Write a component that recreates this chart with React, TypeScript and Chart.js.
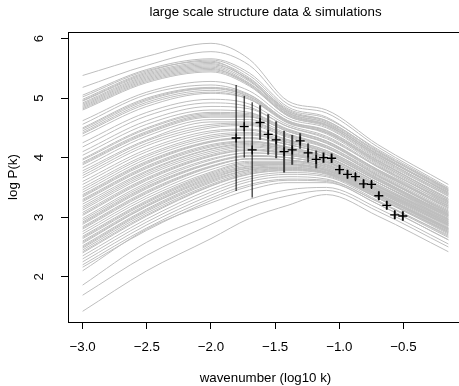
import React, { useEffect, useRef } from 'react';
import { Chart, registerables } from 'chart.js';

Chart.register(...registerables);

const TITLE = 'large scale structure data & simulations';
const X_LABEL = 'wavenumber (log10 k)';
const Y_LABEL = 'log P(k)';
const X_TICKS = [-3.0, -2.5, -2.0, -1.5, -1.0, -0.5];
const Y_TICKS = [2, 3, 4, 5, 6];

// knots (log10 k) at which each simulated curve was read
const simK = [-3.0, -2.5, -2.0, -1.7, -1.4, -1.1, -0.7, -0.15];

// simulated log P(k) curves, values at simK
const simLogP: number[][] = [
  [5.38, 5.70, 5.92, 5.65, 4.95, 4.80, 4.22, 3.55],
  [5.18, 5.55, 5.78, 5.55, 4.90, 4.75, 4.18, 3.50],
  [5.05, 5.48, 5.66, 5.42, 4.85, 4.68, 4.12, 3.47],
  [5.02, 5.46, 5.62, 5.30, 4.78, 4.60, 4.08, 3.40],
  [4.98, 5.44, 5.64, 5.38, 4.82, 4.66, 4.14, 3.48],
  [4.96, 5.42, 5.60, 5.34, 4.78, 4.62, 4.10, 3.46],
  [4.95, 5.40, 5.58, 5.30, 4.76, 4.58, 4.05, 3.42],
  [4.92, 5.38, 5.56, 5.32, 4.80, 4.62, 4.10, 3.45],
  [4.90, 5.36, 5.54, 5.28, 4.75, 4.58, 4.06, 3.40],
  [4.88, 5.34, 5.52, 5.25, 4.74, 4.55, 4.02, 3.38],
  [4.86, 5.32, 5.50, 5.22, 4.72, 4.54, 4.04, 3.42],
  [4.84, 5.30, 5.48, 5.24, 4.72, 4.56, 4.06, 3.44],
  [4.82, 5.28, 5.46, 5.22, 4.70, 4.54, 4.02, 3.38],
  [4.80, 5.26, 5.44, 5.20, 4.70, 4.52, 4.00, 3.36],
  [4.62, 5.10, 5.28, 5.12, 4.66, 4.50, 3.98, 3.35],
  [4.56, 5.06, 5.22, 5.06, 4.62, 4.46, 3.96, 3.30],
  [4.50, 5.00, 5.18, 5.05, 4.62, 4.45, 3.95, 3.32],
  [4.48, 4.98, 5.17, 5.03, 4.61, 4.44, 3.92, 3.28],
  [4.45, 4.96, 5.16, 5.02, 4.60, 4.42, 3.90, 3.25],
  [4.42, 4.93, 5.13, 5.00, 4.59, 4.42, 3.92, 3.27],
  [4.40, 4.90, 5.10, 4.98, 4.58, 4.42, 3.94, 3.30],
  [4.36, 4.86, 5.08, 4.98, 4.60, 4.40, 3.88, 3.22],
  [4.25, 4.76, 4.98, 4.90, 4.55, 4.36, 3.86, 3.24],
  [4.18, 4.70, 4.92, 4.85, 4.52, 4.34, 3.84, 3.20],
  [4.10, 4.62, 4.86, 4.82, 4.52, 4.32, 3.85, 3.26],
  [4.04, 4.56, 4.80, 4.76, 4.48, 4.28, 3.80, 3.18],
  [3.98, 4.50, 4.76, 4.74, 4.47, 4.28, 3.79, 3.16],
  [3.96, 4.48, 4.74, 4.72, 4.46, 4.27, 3.78, 3.14],
  [3.92, 4.44, 4.72, 4.70, 4.44, 4.24, 3.76, 3.16],
  [3.90, 4.42, 4.70, 4.69, 4.44, 4.25, 3.77, 3.19],
  [3.88, 4.40, 4.68, 4.68, 4.44, 4.25, 3.80, 3.22],
  [3.83, 4.36, 4.64, 4.64, 4.40, 4.20, 3.72, 3.10],
  [3.78, 4.30, 4.60, 4.60, 4.38, 4.20, 3.74, 3.12],
  [3.74, 4.28, 4.56, 4.58, 4.38, 4.18, 3.70, 3.06],
  [3.70, 4.24, 4.53, 4.56, 4.36, 4.17, 3.70, 3.08],
  [3.66, 4.20, 4.50, 4.54, 4.34, 4.16, 3.70, 3.10],
  [3.60, 4.14, 4.45, 4.48, 4.30, 4.12, 3.66, 3.04],
  [3.55, 4.10, 4.42, 4.46, 4.30, 4.12, 3.68, 3.08],
  [3.50, 4.05, 4.38, 4.42, 4.28, 4.10, 3.65, 3.05],
  [3.46, 4.02, 4.35, 4.40, 4.26, 4.09, 3.64, 3.04],
  [3.42, 3.98, 4.32, 4.38, 4.25, 4.08, 3.64, 3.02],
  [3.38, 3.94, 4.28, 4.34, 4.22, 4.06, 3.62, 3.00],
  [3.36, 3.92, 4.27, 4.33, 4.22, 4.05, 3.61, 3.03],
  [3.34, 3.90, 4.26, 4.32, 4.22, 4.05, 3.62, 3.06],
  [3.30, 3.86, 4.22, 4.28, 4.18, 4.02, 3.58, 2.96],
  [3.28, 3.84, 4.20, 4.27, 4.17, 4.01, 3.58, 2.98],
  [3.26, 3.82, 4.18, 4.26, 4.16, 4.00, 3.58, 3.00],
  [3.22, 3.78, 4.15, 4.24, 4.14, 3.98, 3.55, 2.94],
  [3.18, 3.76, 4.14, 4.22, 4.14, 4.00, 3.58, 3.02],
  [3.15, 3.73, 4.11, 4.20, 4.12, 3.97, 3.54, 2.97],
  [3.12, 3.70, 4.08, 4.18, 4.10, 3.95, 3.52, 2.92],
  [3.08, 3.66, 4.05, 4.15, 4.08, 3.94, 3.52, 2.95],
  [3.05, 3.64, 4.03, 4.13, 4.07, 3.93, 3.51, 2.93],
  [3.03, 3.62, 4.02, 4.12, 4.06, 3.92, 3.50, 2.90],
  [2.98, 3.58, 3.98, 4.08, 4.04, 3.90, 3.48, 2.90],
  [2.95, 3.55, 3.96, 4.08, 4.04, 3.92, 3.52, 2.96],
  [2.92, 3.52, 3.92, 4.04, 4.00, 3.88, 3.46, 2.86],
  [2.90, 3.50, 3.91, 4.03, 4.00, 3.88, 3.47, 2.89],
  [2.88, 3.48, 3.90, 4.02, 4.00, 3.88, 3.48, 2.92],
  [2.84, 3.44, 3.86, 3.98, 3.96, 3.84, 3.44, 2.84],
  [2.82, 3.42, 3.85, 3.98, 3.96, 3.85, 3.45, 2.87],
  [2.80, 3.40, 3.84, 3.98, 3.96, 3.86, 3.46, 2.90],
  [2.76, 3.36, 3.80, 3.94, 3.94, 3.82, 3.42, 2.82],
  [2.72, 3.32, 3.76, 3.92, 3.92, 3.82, 3.44, 2.88],
  [2.68, 3.28, 3.74, 3.90, 3.90, 3.80, 3.40, 2.80],
  [2.66, 3.26, 3.72, 3.88, 3.89, 3.79, 3.39, 2.78],
  [2.64, 3.24, 3.70, 3.86, 3.88, 3.78, 3.38, 2.80],
  [2.60, 3.21, 3.68, 3.85, 3.88, 3.80, 3.42, 2.86],
  [2.58, 3.19, 3.66, 3.83, 3.86, 3.78, 3.39, 2.81],
  [2.56, 3.18, 3.64, 3.82, 3.84, 3.76, 3.36, 2.76],
  [2.52, 3.14, 3.62, 3.80, 3.84, 3.76, 3.38, 2.82],
  [2.50, 3.12, 3.60, 3.79, 3.82, 3.75, 3.36, 2.78],
  [2.48, 3.10, 3.58, 3.77, 3.81, 3.74, 3.34, 2.74],
  [2.45, 3.07, 3.55, 3.75, 3.80, 3.74, 3.36, 2.80],
  [2.42, 3.04, 3.53, 3.73, 3.79, 3.73, 3.33, 2.74],
  [2.40, 3.02, 3.52, 3.72, 3.78, 3.72, 3.32, 2.72],
  [2.35, 2.97, 3.47, 3.68, 3.75, 3.70, 3.32, 2.76],
  [2.30, 2.92, 3.42, 3.64, 3.72, 3.68, 3.28, 2.68],
  [2.25, 2.87, 3.37, 3.60, 3.68, 3.64, 3.26, 2.66],
  [2.20, 2.82, 3.32, 3.55, 3.64, 3.62, 3.26, 2.70],
  [2.16, 2.78, 3.28, 3.52, 3.62, 3.60, 3.22, 2.62],
  [2.10, 2.80, 3.24, 3.46, 3.58, 3.58, 3.22, 2.62],
  [1.86, 2.58, 3.04, 3.30, 3.46, 3.50, 3.15, 2.55],
  [1.69, 2.36, 2.88, 3.18, 3.36, 3.45, 3.10, 2.50],
  [1.42, 2.10, 2.64, 2.98, 3.20, 3.38, 3.02, 2.42],
];

// observed data with error bars
const dataK = [-1.804, -1.741, -1.679, -1.617, -1.554, -1.492, -1.430, -1.367, -1.305, -1.243, -1.180,
  -1.123, -1.060, -0.998, -0.936, -0.874, -0.811, -0.749, -0.692, -0.630, -0.568, -0.505];
const dataLogP = [4.33, 4.52, 4.13, 4.59, 4.39, 4.30, 4.10, 4.13, 4.28, 4.08, 3.97,
  4.00, 3.99, 3.80, 3.72, 3.68, 3.56, 3.55, 3.36, 3.20, 3.04, 3.02];
const dataErr = [0.89, 0.52, 0.80, 0.29, 0.34, 0.31, 0.35, 0.25, 0.13, 0.16, 0.15,
  0.09, 0.08, 0.08, 0.07, 0.06, 0.07, 0.06, 0.07, 0.07, 0.07, 0.08];

const FONT = '"Liberation Sans", Arial, Helvetica, sans-serif';
const FS = 13.3;

const fmt = (v: number) => (v < 0 ? '\u2212' : '') + Math.abs(v).toFixed(1);

export default function App() {
  const ref = useRef<HTMLCanvasElement | null>(null);

  useEffect(() => {
    if (!ref.current) return;
    const datasets: any[] = [];
    simLogP.forEach((vals) => {
      datasets.push({
        data: simK.map((k, i) => ({ x: k, y: vals[i] })),
        showLine: true,
        borderColor: '#bebebe',
        borderWidth: 1,
        pointRadius: 0,
        cubicInterpolationMode: 'monotone',
        fill: false,
        order: 3,
      });
    });
    dataK.forEach((k, i) => {
      datasets.push({
        data: [
          { x: k, y: dataLogP[i] - dataErr[i] },
          { x: k, y: dataLogP[i] + dataErr[i] },
        ],
        showLine: true,
        borderColor: i < 3 ? '#000000' : '#404040',
        borderWidth: i < 3 ? 1 : 2,
        pointRadius: 0,
        tension: 0,
        order: 2,
      });
    });
    datasets.push({
      data: dataK.map((k, i) => ({ x: k, y: dataLogP[i] })),
      showLine: false,
      pointStyle: 'cross',
      pointRadius: 4.5,
      borderColor: '#000000',
      backgroundColor: '#000000',
      borderWidth: 1.3,
      order: 1,
    });

    const boxPlugin = {
      id: 'boxAndYLabels',
      afterDraw(chart: any) {
        const ctx = chart.ctx;
        const { left, top, right, bottom } = chart.chartArea;
        const ys = chart.scales.y;
        ctx.save();
        ctx.strokeStyle = '#000';
        ctx.lineWidth = 1;
        ctx.strokeRect(left + 0.5, top + 0.5, right - left, bottom - top);
        ctx.fillStyle = '#000';
        ctx.font = `${FS}px ${FONT}`;
        ctx.textAlign = 'center';
        ctx.textBaseline = 'middle';
        Y_TICKS.forEach((v) => {
          const py = ys.getPixelForValue(v);
          ctx.save();
          ctx.translate(left - 29, py);
          ctx.rotate(-Math.PI / 2);
          ctx.fillText(String(v), 0, 0);
          ctx.restore();
        });
        ctx.restore();
      },
    };

    const chart = new Chart(ref.current, {
      type: 'scatter',
      data: { datasets },
      options: {
        animation: false,
        responsive: false,
        devicePixelRatio: 1,
        events: [],
        layout: { padding: { left: 0, right: 12, top: 0, bottom: 0 } },
        plugins: {
          legend: { display: false },
          tooltip: { enabled: false },
          title: {
            display: true,
            text: TITLE,
            fullSize: false,
            color: '#000',
            font: { family: FONT, size: FS, weight: 'normal' },
            padding: { top: 4, bottom: 32 - 4 - FS * 1.2 },
          },
        },
        scales: {
          x: {
            type: 'linear',
            min: -3.114,
            max: -0.036,
            afterBuildTicks: (s: any) => {
              s.ticks = X_TICKS.map((v) => ({ value: v }));
            },
            afterFit: (s: any) => {
              s.height = 64;
            },
            border: { display: false },
            grid: { drawOnChartArea: false, drawTicks: true, tickLength: 7, color: '#000', lineWidth: 1 },
            ticks: {
              color: '#000',
              font: { family: FONT, size: FS },
              padding: 10,
              maxRotation: 0,
              autoSkip: false,
              callback: (v: any) => fmt(Number(v)),
            },
            title: {
              display: true,
              text: X_LABEL,
              color: '#000',
              font: { family: FONT, size: FS },
              padding: { top: 0, bottom: 0 },
            },
          },
          y: {
            type: 'linear',
            min: 1.24,
            max: 6.11,
            afterBuildTicks: (s: any) => {
              s.ticks = Y_TICKS.map((v) => ({ value: v }));
            },
            afterFit: (s: any) => {
              s.width = 68;
            },
            border: { display: false },
            grid: { drawOnChartArea: false, drawTicks: true, tickLength: 7, color: '#000', lineWidth: 1 },
            ticks: { display: false },
            title: {
              display: true,
              text: Y_LABEL,
              color: '#000',
              font: { family: FONT, size: FS },
              padding: { top: 5.3, bottom: 0 },
            },
          },
        },
      } as any,
      plugins: [boxPlugin],
    });
    return () => chart.destroy();
  }, []);

  return (
    <div
      style={{
        position: 'fixed',
        left: 0,
        top: 0,
        width: 459,
        height: 386,
        overflow: 'hidden',
        background: '#fff',
      }}
    >
      <canvas ref={ref} width={475} height={386} style={{ display: 'block' }} />
    </div>
  );
}
